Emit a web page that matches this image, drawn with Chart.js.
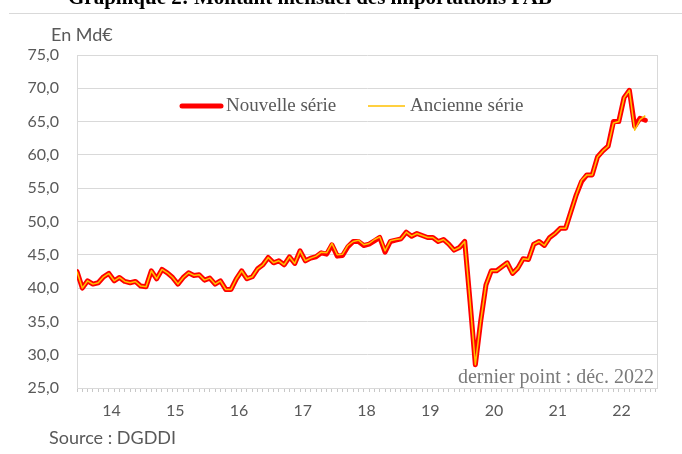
<!DOCTYPE html>
<html><head><meta charset="utf-8">
<script src="https://cdn.jsdelivr.net/npm/chart.js@4/dist/chart.umd.min.js"></script>
<style>html,body{margin:0;padding:0;background:#fff}canvas{display:block}</style>
</head><body>
<canvas id="c" width="682" height="454"></canvas>
<script>
// Monthly values, Jan 2014 -> Dec 2022 (Md€)
const yearLabels = ['14','15','16','17','18','19','20','21','22'];
const nouvelleSerie = [
  42.5, 40.0, 41.1, 40.6, 40.8, 41.7, 42.2, 41.1, 41.6, 41.0, 40.8, 41.0,
  40.3, 40.2, 42.6, 41.4, 42.8, 42.3, 41.6, 40.6, 41.6, 42.3, 41.9, 42.0,
  41.2, 41.5, 40.6, 41.1, 39.8, 39.8, 41.4, 42.6, 41.4, 41.7, 42.9, 43.5,
  44.6, 43.8, 44.1, 43.5, 44.7, 43.7, 45.6, 44.1, 44.5, 44.7, 45.3, 45.1,
  46.5, 44.8, 44.9, 46.2, 47.0, 47.0, 46.4, 46.6, 47.1, 47.6, 45.4, 47.0,
  47.2, 47.4, 48.4, 47.8, 48.2, 47.9, 47.6, 47.6, 47.0, 47.3, 46.6, 45.7,
  46.1, 47.0, 38.0, 28.5, 35.0, 40.5, 42.6, 42.6, 43.2, 43.8, 42.2, 43.0,
  44.4, 44.3, 46.6, 47.0, 46.4, 47.6, 48.2, 49.0, 49.0, 51.5, 54.0, 56.0,
  57.0, 57.0, 59.7, 60.6, 61.3, 65.0, 65.0, 68.6, 69.7, 64.3, 65.5, 65.2
];
const ancienneSerie = [
  42.5, 40.0, 41.1, 40.6, 40.8, 41.7, 42.2, 41.1, 41.6, 41.0, 40.8, 41.0,
  40.3, 40.2, 42.6, 41.4, 42.8, 42.3, 41.6, 40.6, 41.6, 42.3, 41.9, 42.0,
  41.2, 41.5, 40.6, 41.1, 39.8, 39.8, 41.4, 42.6, 41.4, 41.7, 42.9, 43.5,
  44.6, 43.8, 44.1, 43.5, 44.7, 43.7, 45.6, 44.1, 44.5, 44.8, 45.4, 45.3,
  46.7, 45.0, 45.1, 46.4, 47.0, 47.2, 46.5, 46.7, 47.3, 47.7, 45.6, 47.1,
  47.3, 47.4, 48.4, 47.8, 48.2, 47.9, 47.6, 47.6, 47.0, 47.3, 46.6, 45.7,
  46.1, 47.0, 38.0, 28.5, 35.0, 40.5, 42.6, 42.6, 43.2, 43.8, 42.2, 43.0,
  44.4, 44.3, 46.6, 47.0, 46.4, 47.6, 48.2, 49.0, 49.0, 51.5, 54.0, 56.2,
  57.0, 57.0, 59.7, 60.6, 61.3, 64.8, 65.0, 68.6, 69.7, 63.7, 65.3, 65.9
];
const yTickMin = 25, yTickMax = 75, yTickStep = 5;

const SANS = 'Lato, "Open Sans", sans-serif';
const SERIF = '"Liberation Serif", "DejaVu Serif", serif';
const GREY = '#595959';

const decor = {
  id: 'decor',
  afterDraw(chart) {
    const ctx = chart.ctx, a = chart.chartArea;
    ctx.save();
    // right border of plot
    ctx.strokeStyle = '#d9d9d9'; ctx.lineWidth = 1;
    ctx.beginPath(); ctx.moveTo(Math.round(a.right) + 0.5, a.top); ctx.lineTo(Math.round(a.right) + 0.5, a.bottom); ctx.stroke();
    // outer frame top line
    ctx.beginPath(); ctx.moveTo(9, 13.5); ctx.lineTo(682, 13.5); ctx.stroke();
    // title (cut at top)
    ctx.fillStyle = '#000'; ctx.font = 'bold 21px ' + SERIF;
    ctx.textAlign = 'left'; ctx.textBaseline = 'alphabetic';
    ctx.fillText('Graphique 2: Montant mensuel des importations FAB', 68, 4);
    // unit and source
    ctx.fillStyle = GREY; ctx.font = '18px ' + SANS; ctx.textBaseline = 'middle';
    ctx.fillText('En Md€', 51, 35);
    ctx.fillText('Source : DGDDI', 49, 438);
    // legend
    ctx.lineCap = 'round';
    ctx.strokeStyle = '#ff0000'; ctx.lineWidth = 5;
    ctx.beginPath(); ctx.moveTo(182, 106); ctx.lineTo(221, 106); ctx.stroke();
    ctx.strokeStyle = '#ffc000'; ctx.lineWidth = 1.5; ctx.lineCap = 'butt';
    ctx.beginPath(); ctx.moveTo(368, 106); ctx.lineTo(405, 106); ctx.stroke();
    ctx.fillStyle = GREY; ctx.font = '19px ' + SERIF; ctx.textBaseline = 'middle';
    ctx.fillText('Nouvelle série', 226, 106);
    ctx.fillText('Ancienne série', 410, 106);
    // last point note
    ctx.textAlign = 'right'; ctx.textBaseline = 'alphabetic';
    ctx.fillStyle = '#7a7a7a'; ctx.font = '20px ' + SERIF;
    ctx.fillText('dernier point : déc. 2022', 654, 383);
    ctx.restore();
  }
};

new Chart(document.getElementById('c'), {
  type: 'line',
  data: {
    datasets: [
      { label: 'Ancienne série', data: ancienneSerie.map((v, i) => ({x: i, y: v})),
        borderColor: '#ffc000', borderWidth: 1.5, pointRadius: 0, tension: 0,
        borderJoinStyle: 'round', order: 1 },
      { label: 'Nouvelle série', data: nouvelleSerie.map((v, i) => ({x: i, y: v})),
        borderColor: '#ff0000', borderWidth: 5, pointRadius: 0, tension: 0,
        borderJoinStyle: 'round', borderCapStyle: 'round', order: 2 }
    ]
  },
  options: {
    responsive: false, animation: false, devicePixelRatio: 1,
    layout: { padding: { top: 55, right: 25, left: 0, bottom: 0 } },
    plugins: { legend: { display: false }, tooltip: { enabled: false } },
    scales: {
      x: {
        type: 'linear', min: 0, max: 109.2,
        afterBuildTicks(scale) {
          const t = [];
          for (let v = 0; v <= 109; v += 0.5) t.push({ value: v });
          scale.ticks = t;
        },
        afterFit(scale) { scale.height = 66; },
        grid: {
          drawOnChartArea: false, drawTicks: true, tickLength: 4,
          tickColor: c => (c.tick && Number.isInteger(c.tick.value)) ? '#c8c8c8' : 'rgba(0,0,0,0)'
        },
        border: { display: true, color: '#d9d9d9' },
        ticks: {
          autoSkip: false, maxRotation: 0, minRotation: 0, padding: 9,
          color: GREY, font: { family: SANS, size: 16 },
          callback(v) {
            const r = v - 6.5;
            if (r >= 0 && r % 12 === 0) return yearLabels[r / 12] || '';
            return '';
          }
        }
      },
      y: {
        min: yTickMin, max: yTickMax,
        afterFit(scale) { scale.width = 77; },
        grid: { color: '#d9d9d9', drawTicks: false },
        border: { display: true, color: '#d9d9d9' },
        ticks: {
          stepSize: yTickStep, padding: 18, color: GREY,
          font: { family: SANS, size: 16 },
          callback: v => v.toFixed(1).replace('.', ',')
        }
      }
    }
  },
  plugins: [decor]
});
</script>
</body></html>
